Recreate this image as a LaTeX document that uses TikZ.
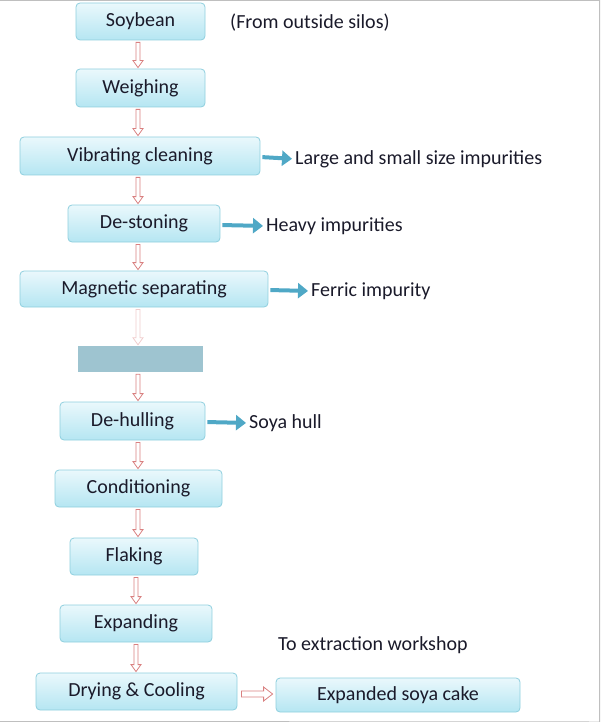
\documentclass[tikz,border=0pt]{standalone}
\usepackage{fontspec}
\setmainfont{Carlito}
\usetikzlibrary{arrows.meta,calc}
\definecolor{bx}{HTML}{8FCFDE}
\definecolor{bxt}{HTML}{EAF8FC}
\definecolor{bxb}{HTML}{B5E6F2}
\definecolor{pk}{HTML}{D98080}
\definecolor{bl}{HTML}{4FA8C6}
\definecolor{tx}{HTML}{1A1A2A}
\tikzset{
 stepbox/.style={draw=bx,line width=0.8pt,rounded corners=4pt,top color=bxt,bottom color=bxb,inner sep=0pt},
 bt/.style={text=tx,font=\fontsize{20}{20}\selectfont},
 lbl/.style={anchor=west,inner sep=0pt,text=tx,font=\fontsize{20}{20}\selectfont},
 pinkarr/.style={draw=pk,line width=0.8pt,fill=white},
 bluearr/.style={draw=bl,line width=4pt,-{Triangle[length=10pt,width=15pt]},shorten <=2pt,shorten >=3pt},
}
\newcommand\varr[4][pk]{\draw[pinkarr,draw=#1] let \p1=(#2.south -| #4,0), \p2=(#3.north -| #4,0) in
 (\x1-2,\y1-2) -- (\x1-2,\y2+8) -- (\x1-5,\y2+8) -- (\x1,\y2+1) -- (\x1+5,\y2+8) -- (\x1+2,\y2+8) -- (\x1+2,\y1-2) -- cycle;}
\begin{document}
\begin{tikzpicture}[x=1pt,y=-1pt]
\useasboundingbox (0,0) rectangle (600,722);
\draw[gray!50,line width=1pt] (0,0.5) -- (600,0.5);
\draw[gray!50,line width=1pt] (599.5,0) -- (599.5,722) -- (0,721.5);
\newcommand\bx[5]{\node[stepbox,minimum width=#3-#2,minimum height=#5-#4] (#1) at ({(#2+#3)/2},{(#4+#5)/2}) {};}
\bx{soy}{76}{205}{3}{40}\node[bt] at (soy) {Soybean};
\bx{wei}{76}{205}{69}{107}\node[bt] at (wei) {Weighing};
\bx{vib}{20}{260}{137}{175}\node[bt] at (vib) {Vibrating cleaning};
\bx{des}{68}{220}{205}{242}\node[bt] at (des) {De-stoning};
\bx{mag}{20}{268}{271}{307}\node[bt] at (mag) {Magnetic separating};
\node[fill=bl!70!gray,opacity=0.6,minimum width=125,minimum height=26,inner sep=0pt] (hid) at (140,359) {};
\bx{deh}{60}{205}{402}{440}\node[bt] at (deh) {De-hulling};
\bx{con}{55}{222}{470}{507}\node[bt] at (con) {Conditioning};
\bx{fla}{70}{198}{538}{575}\node[bt] at (fla) {Flaking};
\bx{exp}{60}{212}{605}{642}\node[bt] at (exp) {Expanding};
\bx{dry}{36}{237}{673}{710}\node[bt] at (dry) {Drying \& Cooling};
\bx{cake}{276}{520}{678}{712}\node[bt] at (cake) {Expanded soya cake};
\node[lbl] (l0) at (230,23) {(From outside silos)};
\node[lbl] (l1) at (295,159) {Large and small size impurities};
\node[lbl] (l2) at (266,226) {Heavy impurities};
\node[lbl] (l3) at (311,291) {Ferric impurity};
\node[lbl] (l4) at (249,423) {Soya hull};
\node[lbl] (l5) at (278,645) {To extraction workshop};
\varr{soy}{wei}{138}
\varr{wei}{vib}{138}
\varr{vib}{des}{138}
\varr{des}{mag}{138}
\varr[pk!40]{mag}{hid}{138}
\varr{hid}{deh}{138}
\varr{deh}{con}{138}
\varr{con}{fla}{138}
\varr{fla}{exp}{136}
\varr{exp}{dry}{136}
\draw[pinkarr] let \p1=(dry.east |- 0,694), \p2=(cake.west |- 0,694) in
 (\x1+4,\y1+3) -- (\x2-12,\y1+3) -- (\x2-12,\y1+7) -- (\x2-3,\y1) -- (\x2-12,\y1-7) -- (\x2-12,\y1-3) -- (\x1+4,\y1-3) -- cycle;
\draw[bluearr] (vib.east |- 0,157) -- (l1.west);
\draw[bluearr] (des.east |- 0,225) -- (l2.west);
\draw[bluearr] (mag.east |- 0,290) -- (l3.west);
\draw[bluearr] (deh.east |- 0,422) -- (l4.west);
\end{tikzpicture}
\end{document}
